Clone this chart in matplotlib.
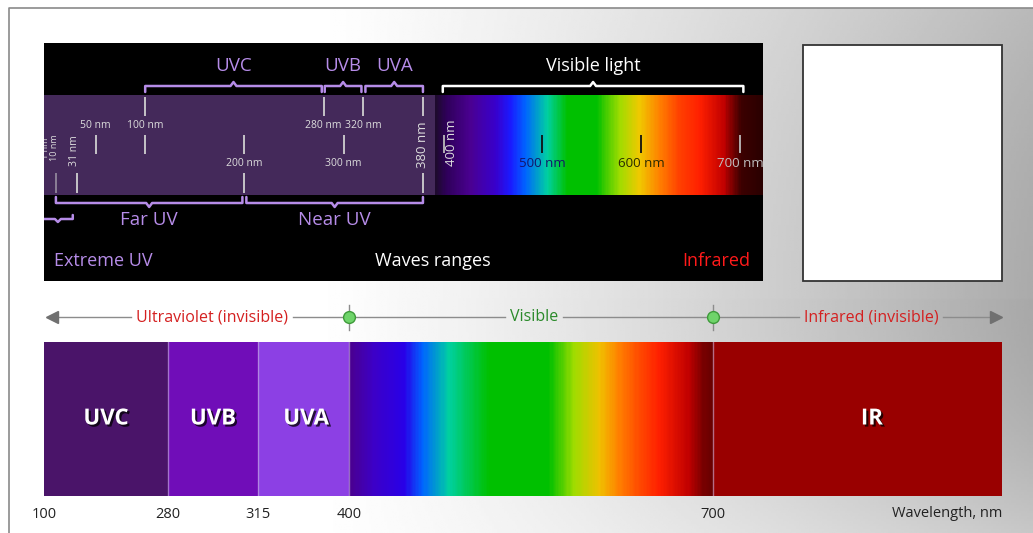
import numpy as np
import matplotlib.pyplot as plt
import matplotlib.patheffects as pe
from matplotlib.colors import LinearSegmentedColormap
from matplotlib.patches import Rectangle

plt.rcParams['font.family'] = ['Open Sans', 'DejaVu Sans']

# ---------------- data ----------------
# upper panel (wavelength in nm)
uv_bands = ['UVC', 'UVB', 'UVA']
uv_band_ranges = [(100, 278), (281, 318), (322, 380)]
visible_name = 'Visible light'
visible_range = (400, 703)
uv_groups = ['Far UV', 'Near UV']
uv_group_ranges = [(10, 198), (202, 380)]
extreme_uv_range = (-4, 27)

uv_tick_nm = [100, 280, 320, 380, 50, 100, 200, 300, 10, 31, 200, 380]
uv_tick_row = [0, 0, 0, 0, 1, 1, 1, 1, 2, 2, 2, 2]
uv_label_nm = [50, 100, 280, 320, 200, 300]
uv_label_row = [0, 0, 0, 0, 1, 1]
uv_vlabel_nm = [0, 9, 29, 380, 409]
uv_vlabel_text = ['1 nm', '10 nm', '31 nm', '380 nm', '400 nm']
vis_tick_nm = [401, 500, 600, 700]
vis_label_nm = [500, 600, 700]

top_spec_nm = [392, 402, 427, 453, 468, 483, 505, 525, 555, 579, 599, 619, 639, 659, 684, 702, 723]
top_spec_col = ['#1e0a2e', '#2e0058', '#4a0092', '#3800cc', '#1a1aff', '#0064ff', '#00d0a0',
                '#00c000', '#00c000', '#a0dc00', '#f0c800', '#ff8000', '#ff4000', '#ff2000',
                '#c00000', '#3c0000', '#2a0000']

# lower bar
band_names = ['UVC', 'UVB', 'UVA', 'IR']
band_edges = [100, 280, 315, 400, 700, 1000]
band_colors = ['#4a1469', '#700db8', '#8c40e4', '#990000']
band_label_nm = [190, 297.5, 360, 865]
bar_ticks = [100, 280, 315, 400, 700]

bot_spec_nm = [400, 420, 445, 460, 482, 498, 515, 565, 586, 607, 623, 640, 656, 681, 693, 700]
bot_spec_col = ['#4a0090', '#3c00c8', '#2800e8', '#0064ff', '#00d0a0', '#00c850', '#00c000',
                '#00c000', '#a0dc00', '#f0c000', '#ff8000', '#ff4a00', '#ff2000', '#c00000',
                '#780000', '#6a0000']

arrow_labels = ['Ultraviolet (invisible)', 'Visible', 'Infrared (invisible)']
arrow_colors = ['#d42020', '#2a8a2a', '#d42020']

# ---------------- figure ----------------
W, H = 1033, 533
fig = plt.figure(figsize=(W / 100, H / 100), dpi=100)
fig.patch.set_facecolor('white')

bg = fig.add_axes([0, 0, 1, 1])
bg.set_xlim(0, W)
bg.set_ylim(H, 0)
bg.axis('off')

# grey gradient background
gx, gy = np.meshgrid(np.linspace(9, W, 400), np.linspace(8, H, 200))
t = np.clip((gx / W - 0.3) / 0.7, 0, 1) ** 1.2
d = (gy - 300) / 300
red = np.where(d < 0, 0.33 - 0.06 * d ** 2, 0.34 - 0.2 * d ** 2)
g = 1 - t * red
bg.imshow(g, cmap='gray', vmin=0, vmax=1, extent=[9, W, H, 8], aspect='auto', zorder=0)
bg.plot([9, 9, W], [H, 8, 8], color='#8a8a8a', lw=1.2, zorder=1)

# white box
bg.add_patch(Rectangle((803, 45), 199, 236, facecolor='white', edgecolor='#333333', lw=1.3, zorder=2))


def brace(ax, x0, x1, y, color, up=True, hook=6, notch=4, dx=3, xm=None):
    if xm is None:
        xm = (x0 + x1) / 2
    s = 1 if up else -1  # up: hooks point down toward the strip, notch points up
    xs = [x0, x0, xm - dx, xm, xm + dx, x1, x1]
    ys = [y + s * hook, y, y, y - s * notch, y, y, y + s * hook]
    ax.plot(xs, ys, color=color, lw=1.8, solid_joinstyle='round', solid_capstyle='round')


# ---------------- upper panel ----------------
lav = '#b68ce8'
top = fig.add_axes([44 / W, 1 - 281 / H, 719 / W, 238 / H])
top.set_facecolor('black')
top.set_xlim(-2.0, 722.8)
top.set_ylim(281, 43)
top.set_xticks([])
top.set_yticks([])
for sp in top.spines.values():
    sp.set_visible(False)

top.add_patch(Rectangle((-2, 95), 394, 100, facecolor='#44295a', edgecolor='none'))

cmap_top = LinearSegmentedColormap.from_list(
    'top', [((n - top_spec_nm[0]) / (top_spec_nm[-1] - top_spec_nm[0]), c)
            for n, c in zip(top_spec_nm, top_spec_col)])
xs = np.linspace(top_spec_nm[0], top_spec_nm[-1], 332)
top.pcolormesh(xs, [95, 195], np.linspace(0, 1, 331)[None, :], cmap=cmap_top,
               shading='flat', antialiased=False)

row_y = [(97, 116), (135, 154), (173, 193)]
for nm, r in zip(uv_tick_nm, uv_tick_row):
    a = 0.55 if nm == 10 else 1
    top.vlines(nm, row_y[r][0], row_y[r][1], color='#d0d0d0', lw=1.3, alpha=a)
label_y = [126, 164]
for nm, r in zip(uv_label_nm, uv_label_row):
    top.text(nm, label_y[r], f'{nm} nm', color='#dddddd', fontsize=7.5, ha='center', va='center')
vl_y = [148, 148, 151, 145, 143]
vl_fs = [6.5, 6.5, 7.5, 9.5, 9.5]
for nm, txt, y, fs in zip(uv_vlabel_nm, uv_vlabel_text, vl_y, vl_fs):
    top.text(nm, y, txt, color='#dddddd', fontsize=fs, rotation=90, ha='center', va='center',
             clip_on=True)

vis_col = ['#bbbbbb', '#111111', '#111111', '#bbbbbb']
for nm, c in zip(vis_tick_nm, vis_col):
    top.vlines(nm, 135, 153, color=c, lw=1.3)
lab_col = ['#14146a', '#2a2a00', '#c0c0c0']
for nm, c in zip(vis_label_nm, lab_col):
    top.text(nm, 164, f'{nm} nm', color=c, fontsize=9.5, ha='center', va='center', clip_on=True)

for name, (a, b) in zip(uv_bands, uv_band_ranges):
    brace(top, a, b, 86, lav, up=True)
    top.text((a + b) / 2, 66, name, color=lav, fontsize=13.5, ha='center', va='center')
brace(top, visible_range[0], visible_range[1], 86, 'white', up=True)
top.text(sum(visible_range) / 2, 66, visible_name, color='white', fontsize=13, ha='center', va='center')

for name, (a, b) in zip(uv_groups, uv_group_ranges):
    brace(top, a, b, 203, lav, up=False)
    top.text((a + b) / 2, 220, name, color=lav, fontsize=13.5, ha='center', va='center')
brace(top, extreme_uv_range[0], extreme_uv_range[1], 219, lav, up=False, hook=4, notch=3, xm=12)

top.text(58, 261, 'Extreme UV', color=lav, fontsize=13, ha='center', va='center')
top.text(390, 261, 'Waves ranges', color='white', fontsize=13, ha='center', va='center')
top.text(676, 261, 'Infrared', color='#ff1a1a', fontsize=13, ha='center', va='center')

# ---------------- lower bar ----------------
pos = (np.array([44, 168, 258, 349, 713, 1002]) - 44) / 958.0


def fwd(x):
    return np.interp(x, band_edges, pos)


def inv(x):
    return np.interp(x, pos, band_edges)


bot = fig.add_axes([44 / W, 1 - 496 / H, 958 / W, 154 / H])
bot.set_xscale('function', functions=(fwd, inv))
bot.set_xlim(band_edges[0], band_edges[-1])
bot.set_ylim(0, 1)
bot.set_yticks([])
for sp in bot.spines.values():
    sp.set_visible(False)

uv_idx = [0, 1, 2]
for i, c in zip(uv_idx, band_colors[:3]):
    bot.bar(band_edges[i], 1, width=band_edges[i + 1] - band_edges[i], align='edge',
            color=c, edgecolor='none')
bot.bar(band_edges[4], 1, width=band_edges[5] - band_edges[4], align='edge',
        color=band_colors[3], edgecolor='none')

cmap_bot = LinearSegmentedColormap.from_list(
    'bot', [((n - bot_spec_nm[0]) / (bot_spec_nm[-1] - bot_spec_nm[0]), c)
            for n, c in zip(bot_spec_nm, bot_spec_col)])
xb = np.linspace(bot_spec_nm[0], bot_spec_nm[-1], 301)
bot.pcolormesh(xb, [0, 1], np.linspace(0, 1, 300)[None, :], cmap=cmap_bot,
               shading='flat', antialiased=False)

for e in band_edges[1:5]:
    bot.axvline(e, color='#c9b6e0', lw=1, alpha=0.6)

shadow = [pe.withSimplePatchShadow(offset=(1.5, -1.5), shadow_rgbFace='black', alpha=0.75)]
for name, x in zip(band_names, band_label_nm):
    bot.text(x, 0.5, name, color='white', fontsize=16, fontweight='bold',
             ha='center', va='center', path_effects=shadow)

bot.set_xticks(bar_ticks)
bot.set_xticklabels([str(v) for v in bar_ticks])
bot.xaxis.set_minor_locator(plt.NullLocator())
bot.tick_params(axis='x', length=0, pad=8, labelsize=10.5, labelcolor='#222222')
bot.text(1.0, -0.115, 'Wavelength, nm', transform=bot.transAxes, ha='right', va='center',
         fontsize=10.5, color='#222222')

# ---------------- arrow row ----------------
ay = 317
arrow_x = [212, 534, 871]
texts = []
for s, x, c in zip(arrow_labels, arrow_x, arrow_colors):
    texts.append(bg.text(x, ay + 4, s, color=c, fontsize=11.5, ha='center', va='baseline', zorder=4))

fig.canvas.draw()
rend = fig.canvas.get_renderer()
inv_bg = bg.transData.inverted()
gaps = []
for tx in texts:
    bb = tx.get_window_extent(rend)
    x0 = inv_bg.transform((bb.x0, bb.y0))[0]
    x1 = inv_bg.transform((bb.x1, bb.y0))[0]
    gaps.append((x0 - 5, x1 + 5))
segs = [52] + [v for gp in gaps for v in gp] + [996]
for i in range(0, len(segs), 2):
    bg.plot([segs[i], segs[i + 1]], [ay, ay], color='#8c8c8c', lw=1, zorder=3)
bg.plot([52], [ay], marker='<', ms=9, color='#707070', zorder=4)
bg.plot([996], [ay], marker='>', ms=9, color='#707070', zorder=4)

# green markers at the visible limits
for nm in visible_range:
    xd = bot.transData.transform((min(nm, 700), 0))[0]
    xp = inv_bg.transform((xd, 0))[0]
    bg.plot([xp, xp], [ay - 12, ay + 13], color='#8c8c8c', lw=1, zorder=4)
    bg.plot([xp], [ay], marker='o', ms=8.5, mfc='#6fd46a', mec='#3e9a3a', mew=1, zorder=5)

fig.savefig('out.png', dpi=100)
